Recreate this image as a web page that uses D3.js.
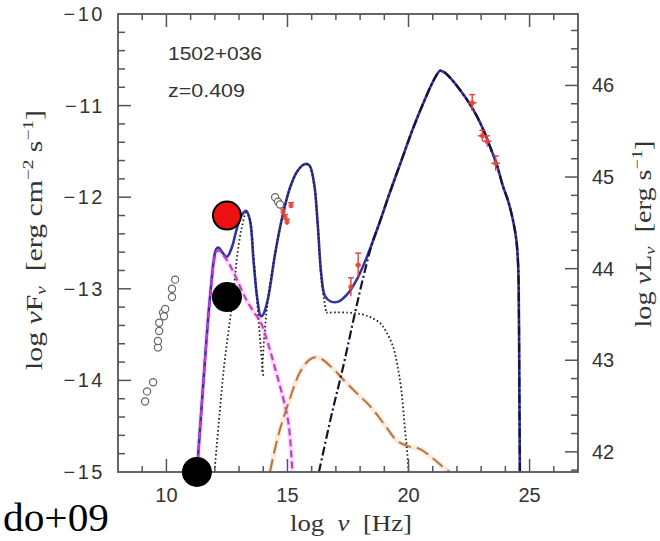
<!DOCTYPE html>
<html><head><meta charset="utf-8">
<script src="https://cdn.jsdelivr.net/npm/d3@7"></script>
<style>body{margin:0;background:#fff}svg{display:block}</style>
</head><body><svg id="c" width="660" height="541"></svg>
<script>
// ---------- data (log nu [Hz], log nuFnu) ----------
const totalX = [11.26,11.45,11.6,11.72,11.85,11.95,12.05,12.15,12.3,12.5,12.7,12.9,13.1,13.3,13.45,13.6,13.75,13.9,14.0,14.2,14.5,14.8,15.1,15.4,15.7,15.9,16.1,16.25,16.4,16.55,16.8,17.1,17.5,17.9,18.3,18.8,19.2,19.65,20.2,20.6,20.95,21.15,21.3,21.5,21.8,22.13,22.5,22.83,23.1,23.37,23.65,23.9,24.1,24.28,24.45,24.53,24.56,24.58,24.6];
const totalY = [-15,-14.3,-13.75,-13.33,-12.95,-12.7,-12.57,-12.55,-12.6,-12.65,-12.55,-12.35,-12.2,-12.15,-12.25,-12.7,-13.1,-13.3,-13.28,-13.1,-12.6,-12.2,-11.9,-11.72,-11.64,-11.65,-11.85,-12.3,-12.85,-13.08,-13.14,-13.14,-13.05,-12.88,-12.64,-12.28,-11.97,-11.64,-11.24,-10.98,-10.77,-10.67,-10.62,-10.64,-10.72,-10.83,-10.97,-11.12,-11.27,-11.45,-11.65,-11.88,-12.03,-12.21,-12.46,-12.76,-13.3,-14.2,-15];
const syncX = [11.26,11.45,11.6,11.72,11.85,11.95,12.05,12.15,12.4,12.7,13.0,13.3,13.6,13.9,14.2,14.5,14.8,15.0,15.1,15.2];
const syncY = [-15,-14.3,-13.75,-13.35,-12.97,-12.73,-12.6,-12.58,-12.65,-12.78,-12.95,-13.12,-13.25,-13.37,-13.6,-13.88,-14.17,-14.4,-14.6,-15];
const torusX = [12.0,12.2,12.4,12.63,12.8,12.92,13.1,13.3,13.45,13.6,13.75,13.9,14.0];
const torusY = [-14.95,-14.35,-13.8,-13.33,-12.95,-12.65,-12.35,-12.17,-12.25,-12.65,-13.15,-13.65,-13.95];
const diskX = [13.95,14.05,14.2,14.5,14.8,15.1,15.4,15.7,15.9,16.1,16.25,16.4,16.6];
const diskY = [-13.9,-13.5,-13.1,-12.6,-12.2,-11.9,-11.72,-11.64,-11.66,-11.87,-12.3,-12.9,-13.26];
const coronaX = [16.6,17.5,18.1,18.5,18.85,19.1,19.36,19.55,19.7,19.86,19.95,20.0];
const coronaY = [-13.26,-13.26,-13.28,-13.32,-13.38,-13.48,-13.63,-13.85,-14.1,-14.55,-14.8,-15];
const sscX = [14.28,14.6,15.1,15.5,15.93,16.26,16.8,17.3,17.9,18.41,19.0,19.53,20.0,20.48,21.0,21.4,21.7];
const sscY = [-15,-14.62,-14.2,-13.92,-13.77,-13.75,-13.85,-13.99,-14.15,-14.28,-14.48,-14.66,-14.72,-14.75,-14.85,-14.94,-15];
const ecX = [16.3,16.8,17.3,17.8,18.2,18.5,18.8,19.2,19.65,20.2,20.6,20.95,21.15,21.3,21.5,21.8,22.13,22.5,22.83,23.1,23.37,23.65,23.9,24.1,24.28,24.45,24.53,24.56,24.58,24.6];
const ecY = [-15,-14.4,-13.85,-13.25,-12.8,-12.5,-12.28,-11.97,-11.64,-11.24,-10.98,-10.77,-10.67,-10.62,-10.64,-10.72,-10.83,-10.97,-11.12,-11.27,-11.45,-11.65,-11.88,-12.03,-12.21,-12.46,-12.76,-13.3,-14.2,-15];
// archival open circles
const archX = [9.12,9.2,9.45,9.65,9.65,9.7,9.7,9.86,9.9,9.95,10.23,10.23,10.36,14.49,14.61,14.69];
const archY = [-14.23,-14.12,-14.02,-13.64,-13.57,-13.46,-13.37,-13.26,-13.3,-13.22,-13.09,-13.0,-12.9,-12.0,-12.05,-12.08];
// simultaneous data (red) with errors
const simX = [14.82,14.9,14.98,15.15,17.62,17.92,22.63,23.05,23.25,23.6];
const simY = [-12.16,-12.22,-12.27,-12.09,-12.98,-12.74,-10.97,-11.33,-11.39,-11.63];
const simErr = [0.03,0.03,0.03,0.03,0.1,0.13,0.09,0.06,0.06,0.08];
const simXErr = [0,0,0,0,0,0.1,0.18,0.18,0.18,0.18];
// overlay markers
const redMarkX = [12.5], redMarkY = [-12.2];
const blackMarkX = [12.5, 11.26], blackMarkY = [-13.09, -15.0];
// ticks & labels
const xMajor = [10,15,20,25], xTickLabels = ["10","15","20","25"];
const yMajor = [-15,-14,-13,-12,-11,-10], yTickLabels = ["\u221215","\u221214","\u221213","\u221212","\u221211","\u221210"];
const yRMajor = [42,43,44,45,46], yRTickLabels = ["42","43","44","45","46"];
const lumOffset = 56.78;
const sourceName = "1502+036", redshift = "z=0.409", citation = "do+09";

// ---------- drawing ----------
const svg = d3.select("#c");
const x = d3.scaleLinear([8,27],[118,578]);
const y = d3.scaleLinear([-15,-10],[472,14]);
const yR = d3.scaleLinear([-15+lumOffset,-10+lumOffset],[472,14]);
const axisCol = "#555";

svg.append("defs").append("clipPath").attr("id","pc").append("rect")
  .attr("x",x(8)).attr("y",y(-10)).attr("width",x(27)-x(8)).attr("height",y(-15)-y(-10));

const g = svg.append("g").attr("clip-path","url(#pc)");
const line = d3.line().x(d=>x(d[0])).y(d=>y(d[1])).curve(d3.curveCatmullRom.alpha(0.5));
const zip = (a,b)=>a.map((v,i)=>[v,b[i]]);

// halos (soft glow as in reference)
g.append("path").attr("d",line(zip(syncX,syncY))).attr("fill","none").attr("stroke","#f3c6f3").attr("stroke-width",5).attr("opacity",0.6);
g.append("path").attr("d",line(zip(sscX,sscY))).attr("fill","none").attr("stroke","#f7dcc4").attr("stroke-width",5).attr("opacity",0.6);

// total
g.append("path").attr("d",line(zip(totalX,totalY))).attr("fill","none").attr("stroke","#3434a6").attr("stroke-width",2.6);
// components
[[torusX,torusY],[diskX,diskY],[coronaX,coronaY]].forEach(([a,b])=>{
  g.append("path").attr("d",line(zip(a,b))).attr("fill","none").attr("stroke","#222").attr("stroke-width",1.8).attr("stroke-dasharray","1.6,2.4");
});
g.append("path").attr("d",line(zip(syncX,syncY))).attr("fill","none").attr("stroke","#c83cc8").attr("stroke-width",2.2).attr("stroke-dasharray","7,4");
g.append("path").attr("d",line(zip(sscX,sscY))).attr("fill","none").attr("stroke","#b8743c").attr("stroke-width",2).attr("stroke-dasharray","13,6");
g.append("path").attr("d",line(zip(ecX,ecY))).attr("fill","none").attr("stroke","#151530").attr("stroke-width",2.2).attr("stroke-dasharray","9,3,2,3");

// archival points
g.selectAll("circle.arch").data(zip(archX,archY)).join("circle").attr("class","arch")
  .attr("cx",d=>x(d[0])).attr("cy",d=>y(d[1])).attr("r",3.6)
  .attr("fill","#fff").attr("stroke","#666").attr("stroke-width",1.2);
// simultaneous points
const sim = simX.map((v,i)=>({x:v,y:simY[i],e:simErr[i],xe:simXErr[i]}));
const sg = g.append("g").attr("stroke","#e0403a").attr("stroke-width",1.4);
sim.forEach(d=>{
  sg.append("line").attr("x1",x(d.x)).attr("x2",x(d.x)).attr("y1",y(d.y-d.e)).attr("y2",y(d.y+d.e));
  sg.append("line").attr("x1",x(d.x)-3).attr("x2",x(d.x)+3).attr("y1",y(d.y+d.e)).attr("y2",y(d.y+d.e));
  if(d.xe>0) sg.append("line").attr("x1",x(d.x-d.xe)).attr("x2",x(d.x+d.xe)).attr("y1",y(d.y)).attr("y2",y(d.y));
});
g.selectAll("circle.sim").data(sim).join("circle").attr("class","sim")
  .attr("cx",d=>x(d.x)).attr("cy",d=>y(d.y)).attr("r",2.6).attr("fill","#e0453a").attr("opacity",0.85);

// frame
svg.append("rect").attr("x",x(8)).attr("y",y(-10)).attr("width",x(27)-x(8)).attr("height",y(-15)-y(-10))
  .attr("fill","none").attr("stroke",axisCol).attr("stroke-width",1.8);

// ticks
const tk = svg.append("g").attr("stroke",axisCol).attr("stroke-width",1.5);
d3.range(9,27).forEach(v=>{
  const L = xMajor.includes(v)?13:6;
  tk.append("line").attr("x1",x(v)).attr("x2",x(v)).attr("y1",y(-15)).attr("y2",y(-15)-L);
  tk.append("line").attr("x1",x(v)).attr("x2",x(v)).attr("y1",y(-10)).attr("y2",y(-10)+L);
});
d3.range(-74,-50).map(v=>v/5).forEach(v=>{
  const L = Math.abs(v-Math.round(v))<1e-6?13:7;
  tk.append("line").attr("x1",x(8)).attr("x2",x(8)+L).attr("y1",y(v)).attr("y2",y(v));
});
d3.range(209,234).map(v=>v/5).forEach(v=>{
  const L = Math.abs(v-Math.round(v))<1e-6?13:7;
  tk.append("line").attr("x1",x(27)).attr("x2",x(27)-L).attr("y1",yR(v)).attr("y2",yR(v));
});

// tick labels
const tf = "'Liberation Sans', Arial, sans-serif";
xMajor.forEach((v,i)=>svg.append("text").attr("x",x(v)).attr("y",502).attr("text-anchor","middle")
  .attr("font-family",tf).attr("font-size",20).attr("fill","#333").text(xTickLabels[i]));
yMajor.forEach((v,i)=>svg.append("text").attr("x",105).attr("y",y(v)+7).attr("text-anchor","end")
  .attr("font-family",tf).attr("font-size",20).attr("fill","#333").style("letter-spacing","2.5px")
  .text(yTickLabels[i]));
yRMajor.forEach((v,i)=>svg.append("text").attr("x",592).attr("y",yR(v)+7).attr("text-anchor","start")
  .attr("font-family",tf).attr("font-size",20).attr("fill","#333").text(yRTickLabels[i]));

// in-plot texts
svg.append("text").attr("x",168).attr("y",60).attr("font-family",tf).attr("font-size",18).attr("fill","#333")
  .attr("textLength",94).attr("lengthAdjust","spacingAndGlyphs").text(sourceName);
svg.append("text").attr("x",168).attr("y",97).attr("font-family",tf).attr("font-size",18).attr("fill","#333")
  .attr("textLength",77).attr("lengthAdjust","spacingAndGlyphs").text(redshift);

// axis titles
const sf = "'Liberation Serif', 'Times New Roman', serif";
const xl = svg.append("text").attr("x",351).attr("y",531).attr("text-anchor","middle")
  .style("white-space","pre")
  .attr("font-family",sf).attr("font-size",24).attr("fill","#333").attr("textLength",122).attr("lengthAdjust","spacingAndGlyphs");
xl.append("tspan").text("log  ");
xl.append("tspan").attr("font-style","italic").text("ν");
xl.append("tspan").text("  [Hz]");

const yl = svg.append("text").attr("transform","translate(42,240) rotate(-90)").attr("text-anchor","middle")
  .style("white-space","pre")
  .attr("font-family",sf).attr("font-size",23).attr("fill","#333").attr("textLength",260).attr("lengthAdjust","spacingAndGlyphs");
yl.append("tspan").text("log ");
yl.append("tspan").attr("font-style","italic").text("ν");
yl.append("tspan").text("F");
yl.append("tspan").attr("font-style","italic").attr("font-size",15).attr("dy",4).text("ν");
yl.append("tspan").attr("dy",-4).text("  [erg cm");
yl.append("tspan").attr("font-size",15).attr("dy",-9).text("−2");
yl.append("tspan").attr("dy",9).text(" s");
yl.append("tspan").attr("font-size",15).attr("dy",-9).text("−1");
yl.append("tspan").attr("dy",9).text("]");

const yr = svg.append("text").attr("transform","translate(651,234) rotate(-90)").attr("text-anchor","middle")
  .style("white-space","pre")
  .attr("font-family",sf).attr("font-size",23).attr("fill","#333").attr("textLength",187).attr("lengthAdjust","spacingAndGlyphs");
yr.append("tspan").text("log ");
yr.append("tspan").attr("font-style","italic").text("ν");
yr.append("tspan").text("L");
yr.append("tspan").attr("font-style","italic").attr("font-size",15).attr("dy",4).text("ν");
yr.append("tspan").attr("dy",-4).text("  [erg s");
yr.append("tspan").attr("font-size",15).attr("dy",-9).text("−1");
yr.append("tspan").attr("dy",9).text("]");

// overlay markers
svg.selectAll("circle.red").data(zip(redMarkX,redMarkY)).join("circle").attr("class","red")
  .attr("cx",d=>x(d[0])).attr("cy",d=>y(d[1])).attr("r",14).attr("fill","#ee1111").attr("stroke","#000").attr("stroke-width",2);
svg.selectAll("circle.blk").data(zip(blackMarkX,blackMarkY)).join("circle").attr("class","blk")
  .attr("cx",d=>x(d[0])).attr("cy",d=>y(d[1])).attr("r",15).attr("fill","#000");

// citation
svg.append("text").attr("x",3).attr("y",531).attr("font-family",sf).attr("font-size",40).attr("fill","#000")
  .attr("textLength",106).attr("lengthAdjust","spacingAndGlyphs").text(citation);
</script></body></html>
